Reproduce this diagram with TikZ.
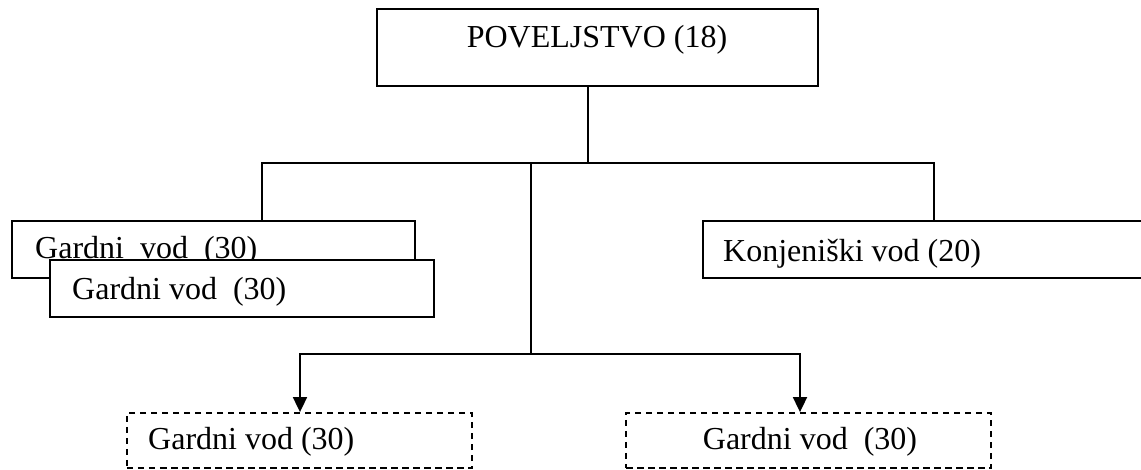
\documentclass[tikz,border=0pt]{standalone}
\usepackage{fontspec}
\setmainfont{Liberation Serif}
\usetikzlibrary{arrows.meta}
\begin{document}
\begin{tikzpicture}[x=1bp,y=-1bp,
  boxst/.style={draw,line width=1.8bp,inner sep=0pt,fill=white},
  dbox/.style={draw,line width=1.8bp,inner sep=0pt,dash pattern=on 6.5bp off 4.5bp},
  lbl/.style={inner sep=0pt,anchor=base west,font=\fontsize{32bp}{37bp}\selectfont},
  conn/.style={line width=1.8bp},
  arr/.style={line width=1.8bp,-{Triangle[length=15bp,width=14bp]}}]
\useasboundingbox (0,0) rectangle (1141,470);
\clip (0,0) rectangle (1141,470);
% top box
\node[boxst,minimum width=441bp,minimum height=77bp] (top) at (597.5,47.5) {};
\node[lbl,anchor=base] (toptxt) at (597,48) {POVELJSTVO (18)};
% left boxes
\node[boxst,minimum width=403bp,minimum height=57bp] (g1) at (213.5,249.5) {};
\node[lbl] (g1txt) at (35,259) {Gardni\ \ vod\ \ (30)};
\node[boxst,minimum width=384bp,minimum height=57bp] (g2) at (242,288.5) {};
\node[lbl] (g2txt) at (72,300) {Gardni vod\ \ (30)};
% cavalry box (runs past the right edge)
\node[boxst,minimum width=460bp,minimum height=57bp] (k) at (933,249.5) {};
\node[lbl] (ktxt) at (723,262) {Konjeniški vod (20)};
% dashed boxes
\node[dbox,minimum width=345bp,minimum height=55bp] (d1) at (299.5,440.5) {};
\node[lbl] (d1txt) at (148,450) {Gardni vod (30)};
\node[dbox,minimum width=365bp,minimum height=55bp] (d2) at (808.5,440.5) {};
\node[lbl,anchor=base] (d2txt) at (810,450) {Gardni vod\ \ (30)};
% junction points
\coordinate (j1) at (588,163);
\coordinate (hl) at (262,163);
\coordinate (hr) at (934,163);
\coordinate (hm) at (531,163);
\coordinate (bm) at (531,354);
\coordinate (bl) at (300,354);
\coordinate (br) at (800,354);
% connectors
\draw[conn] (j1 |- top.south) -- (j1);
\draw[conn] (hl |- g1.north) -- (hl) -- (hr) -- (hr |- k.north);
\draw[conn] (hm) -- (bm);
\draw[arr] (bm) -- (bl) -- (bl |- d1.north);
\draw[arr] (bm) -- (br) -- (br |- d2.north);
\end{tikzpicture}
\end{document}
